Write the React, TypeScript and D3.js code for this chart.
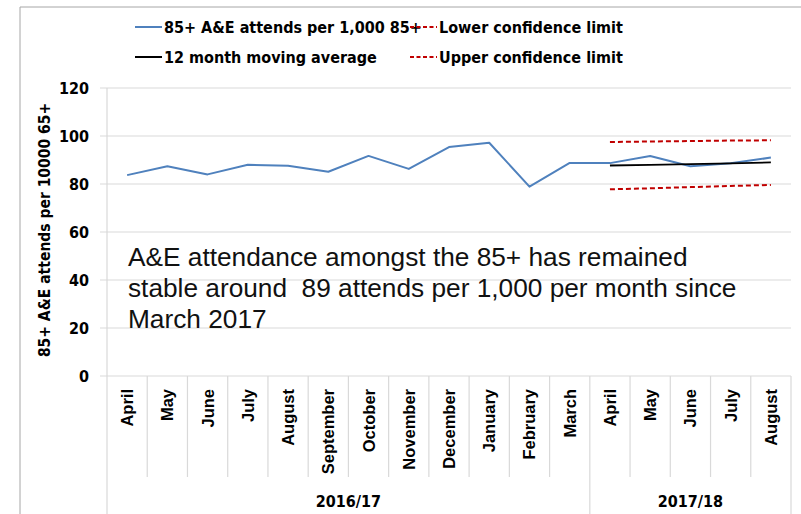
import React from "react";
import * as d3 from "d3";

const months = ["April","May","June","July","August","September","October","November","December","January","February","March","April","May","June","July","August"];
const yearGroups = [
  { label: "2016/17", start: 0, end: 12 },
  { label: "2017/18", start: 12, end: 17 },
];
const attends = [83.7, 87.4, 84.0, 88.0, 87.6, 85.1, 91.7, 86.3, 95.4, 97.2, 78.9, 88.8, 88.7, 91.7, 87.4, 88.6, 91.0];
const limitIdx = [12, 13, 14, 15, 16];
const movingAvg = [87.7, 88.0, 88.3, 88.6, 89.0];
const upperCL = [97.5, 97.7, 97.9, 98.1, 98.2];
const lowerCL = [77.8, 78.2, 78.7, 79.2, 79.6];
const yTicks = [0, 20, 40, 60, 80, 100, 120];
const legendItems = [
  { label: "85+ A&E attends per 1,000 85+", color: "#4f81bd", dash: "none", col: 0, row: 0 },
  { label: "Lower confidence limit", color: "#c00000", dash: "4,2.5", col: 1, row: 0 },
  { label: "12 month moving average", color: "#000000", dash: "none", col: 0, row: 1 },
  { label: "Upper confidence limit", color: "#c00000", dash: "4,2.5", col: 1, row: 1 },
];
const annotation = [
  "A&E attendance amongst the 85+ has remained",
  "stable around  89 attends per 1,000 per month since",
  "March 2017",
];
const yTitle = "85+ A&E attends per 10000 65+";

const W = 801, H = 514;
const left = 107, right = 791, top = 88, bottom = 376;
const calibri = "'Liberation Sans Narrow', 'DejaVu Sans Condensed', sans-serif";
const arial = "'Liberation Sans', Arial, sans-serif";

export default function App() {
  const x = d3.scaleBand<number>().domain(months.map((_, i) => i)).range([left, right]);
  const y = d3.scaleLinear().domain([0, 120]).range([bottom, top]);
  const cx = (i: number) => (x(i) as number) + x.bandwidth() / 2;
  const line = d3.line<[number, number]>().x(d => cx(d[0])).y(d => y(d[1]));
  const mainPts = attends.map((v, i) => [i, v] as [number, number]);
  const pts = (arr: number[]) => arr.map((v, k) => [limitIdx[k], v] as [number, number]);
  const grid = "#d9d9d9";

  return (
    <svg width={W} height={H} style={{ position: "absolute", left: 0, top: 0, background: "#fff" }}>
      <rect x={0} y={0} width={W} height={H} fill="#fff" />
      {/* frame */}
      <line x1={20} y1={7} x2={W} y2={7} stroke="#a6a6a6" strokeWidth={1} />
      <line x1={20} y1={7} x2={20} y2={H} stroke="#a6a6a6" strokeWidth={1} />

      {/* legend */}
      {legendItems.map((it, i) => {
        const lx = it.col === 0 ? 135 : 410;
        const ly = it.row === 0 ? 27 : 57;
        return (
          <g key={i}>
            <line x1={lx} y1={ly} x2={lx + 27} y2={ly} stroke={it.color} strokeWidth={2} strokeDasharray={it.dash} />
            <text x={lx + 29} y={ly + 5.5} fontFamily={calibri} fontWeight="bold" fontSize={16} fill="#000">{it.label}</text>
          </g>
        );
      })}

      {/* gridlines and y ticks */}
      {yTicks.map(t => (
        <g key={t}>
          <line x1={left - 7} x2={right} y1={y(t)} y2={y(t)} stroke={grid} strokeWidth={1.2} />
          <text x={89} y={y(t) + 5.5} textAnchor="end" fontFamily={calibri} fontWeight="bold" fontSize={16} fill="#000">{t}</text>
        </g>
      ))}
      <line x1={left} x2={left} y1={top} y2={bottom} stroke={grid} strokeWidth={1.2} />

      {/* y title */}
      <text transform={`translate(50,${(top + bottom) / 2 - 2}) rotate(-90)`} textAnchor="middle" fontFamily={calibri} fontWeight="bold" fontSize={15.5} fill="#000">{yTitle}</text>

      {/* category axis */}
      {months.map((m, i) => (
        <g key={i}>
          {i > 0 && !yearGroups.some(g => g.start === i) && (
            <line x1={x(i) as number} x2={x(i) as number} y1={bottom} y2={477} stroke={grid} strokeWidth={1.2} />
          )}
          <text transform={`translate(${cx(i) + 6},389) rotate(-90)`} textAnchor="end" fontFamily={arial} fontWeight="bold" fontSize={16.5} fill="#000">{m}</text>
        </g>
      ))}
      {yearGroups.map((g, k) => (
        <g key={k}>
          <line x1={x(g.start) as number} x2={x(g.start) as number} y1={bottom} y2={H} stroke={grid} strokeWidth={1.2} />
          <text x={((x(g.start) as number) + (g.end < months.length ? (x(g.end) as number) : right)) / 2} y={507} textAnchor="middle" fontFamily={calibri} fontWeight="bold" fontSize={16} fill="#000">{g.label}</text>
        </g>
      ))}
      <line x1={right} x2={right} y1={bottom} y2={H} stroke={grid} strokeWidth={1.2} />

      {/* series */}
      <path d={line(pts(upperCL)) || ""} fill="none" stroke="#c00000" strokeWidth={2} strokeDasharray="5,3" />
      <path d={line(pts(lowerCL)) || ""} fill="none" stroke="#c00000" strokeWidth={2} strokeDasharray="5,3" />
      <path d={line(mainPts) || ""} fill="none" stroke="#4f81bd" strokeWidth={2} strokeLinejoin="round" />
      <path d={line(pts(movingAvg)) || ""} fill="none" stroke="#000" strokeWidth={1.8} />

      {/* annotation */}
      {annotation.map((l, i) => (
        <text key={i} transform={`translate(128,${266 + i * 31}) scale(1.05,1)`} fontFamily={arial} fontSize={25} fill="#111" style={{ whiteSpace: "pre" }}>{l}</text>
      ))}
    </svg>
  );
}
